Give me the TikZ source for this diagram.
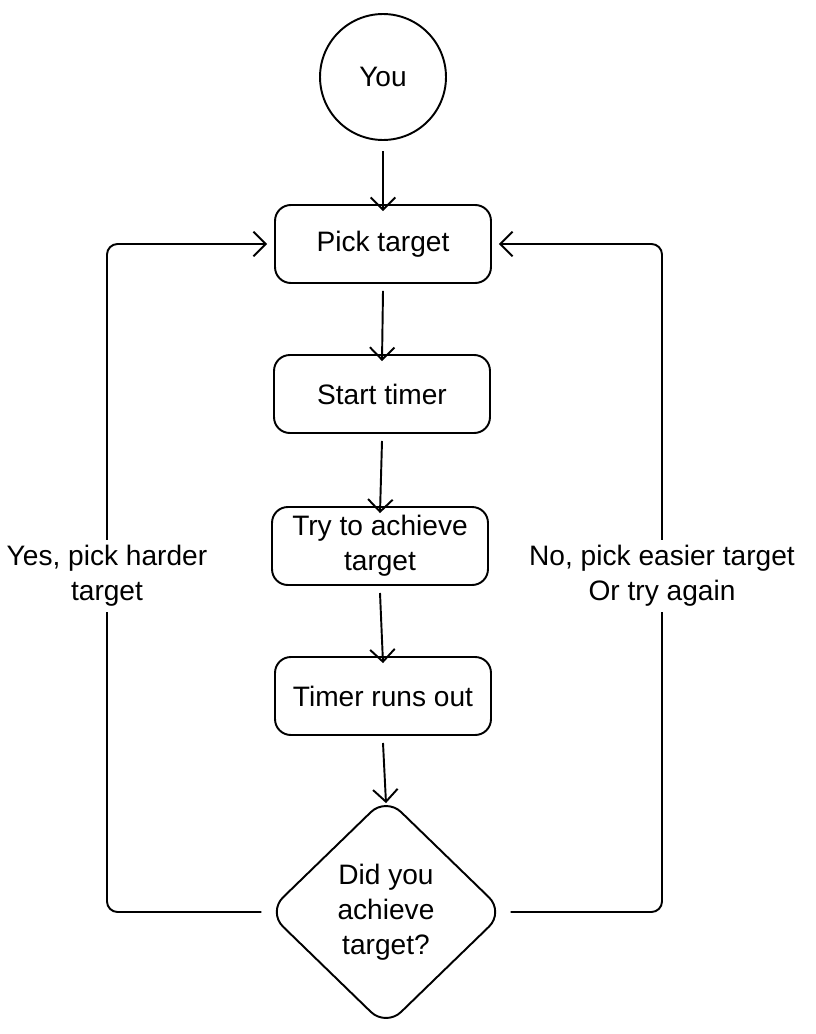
\documentclass[tikz,border=0pt]{standalone}
\usepackage{fontspec}
\setmainfont{Liberation Sans}
\usetikzlibrary{positioning,shapes.geometric,arrows.meta}
\tikzset{
    stepbox/.style={draw=black, rounded corners=9pt, minimum width=4.32cm,
        minimum height=1.56cm, align=center},
    start/.style={draw=black, circle, minimum size=2.52cm},
    decision/.style={draw=black, diamond, rounded corners=12pt, aspect=1,
        minimum width=4.74cm, minimum height=4.6cm, align=center, inner sep=0pt},
    flow/.style={draw=black, -{Straight Barb[length=7pt,width=14pt]}},
    looplabel/.style={fill=white, align=center, inner sep=3pt},
}
\begin{document}
\begin{tikzpicture}[x=0.02cm, y=-0.02cm, line width=1.1pt,
    font=\fontsize{16}{20}\selectfont]
	\useasboundingbox (0,0) rectangle (815,1034);
%
	\node[start] (you) at (383,77) {You};
	\node[stepbox] (pick) at (383,244) {Pick target};
	\node[stepbox] (timer) at (382,394) {Start timer};
	\node[stepbox] (try) at (380,546) {Try to achieve\\target};
	\node[stepbox] (runout) at (383,696) {Timer runs out};
	\node[decision] (decide) at (386,912) {Did you\\achieve\\target?};
	\coordinate (lft) at (107,0);
	\coordinate (rgt) at (662,0);
%
	\draw[flow] ([yshift=-6pt]you.south) -- ([yshift=-4pt]pick.north);
	\draw[flow] ([yshift=-4pt]pick.south) -- ([yshift=-4pt]timer.north);
	\draw[flow] ([yshift=-4pt]timer.south) -- ([yshift=-4pt]try.north);
	\draw[flow] ([yshift=-4pt]try.south) -- ([yshift=-4pt]runout.north);
	\draw[flow] ([yshift=-4pt]runout.south) -- ([yshift=-4pt]decide.north);
%
	\draw[flow, rounded corners=6pt] ([xshift=-3pt]decide.west) -- (decide.west -| lft)
		|- ([xshift=-4pt]pick.west);
	\draw[flow, rounded corners=6pt] ([xshift=3pt]decide.east) -- (decide.east -| rgt)
		|- ([xshift=4pt]pick.east);
	\node[looplabel] (yes) at (107,576) {Yes, pick harder\\target};
	\node[looplabel] (no) at (662,576) {No, pick easier target\\Or try again};
\end{tikzpicture}
\end{document}
